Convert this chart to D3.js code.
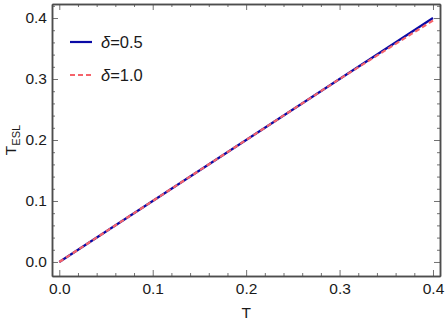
<!DOCTYPE html>
<html>
<head>
<meta charset="utf-8">
<script src="https://cdn.jsdelivr.net/npm/d3@7"></script>
<style>
  body { margin: 0; background: #fff; }
  text { font-family: "Liberation Sans", Arial, sans-serif; }
</style>
</head>
<body>
<div id="chart"></div>
<script>
// data
var tValues = [0.0, 0.1, 0.2, 0.3, 0.4];
var eslDelta05 = [0.0, 0.1, 0.2, 0.3, 0.4];
var eslDelta10 = [0.0, 0.1, 0.2, 0.3, 0.396];
var seriesNames = ["\u03B4=0.5", "\u03B4=1.0"];
var xTicks = [0.0, 0.1, 0.2, 0.3, 0.4];
var yTicks = [0.0, 0.1, 0.2, 0.3, 0.4];

var svgWidth = 445, svgHeight = 324;
var margin = { top: 4, right: 5, bottom: 48, left: 52 };
var chartWidth = svgWidth - margin.left - margin.right;
var chartHeight = svgHeight - margin.top - margin.bottom;

var svg = d3.select("#chart").append("svg")
  .attr("width", svgWidth)
  .attr("height", svgHeight);

var chartGroup = svg.append("g")
  .attr("transform", `translate(${margin.left}, ${margin.top})`);

var xScale = d3.scaleLinear()
  .domain([-0.0078, 0.4075])
  .range([0, chartWidth]);

var yScale = d3.scaleLinear()
  .domain([-0.023, 0.423])
  .range([chartHeight, 0]);

var frameColor = "#4d4d4d";
var minorX = d3.range(0, 0.4001, 0.02).filter(v => xTicks.every(t => Math.abs(t - v) > 1e-6));
var minorY = d3.range(0, 0.4201, 0.02).filter(v => yTicks.every(t => Math.abs(t - v) > 1e-6));

// axes on all four sides, ticks pointing inward
function styleAxis(g) {
  g.select(".domain").attr("stroke", frameColor).attr("stroke-width", 1.5);
  g.selectAll(".tick line").attr("stroke", frameColor).attr("stroke-width", 0.8);
  g.selectAll(".tick text").attr("fill", "#1a1a1a").attr("font-size", 15.5);
}

var xAxisBottom = d3.axisBottom(xScale).tickValues(xTicks).tickSize(-6).tickSizeOuter(0)
  .tickPadding(7).tickFormat(d3.format(".1f"));
chartGroup.append("g").attr("transform", `translate(0, ${chartHeight})`).call(xAxisBottom).call(styleAxis);
chartGroup.append("g").attr("transform", `translate(0, ${chartHeight})`)
  .call(d3.axisBottom(xScale).tickValues(minorX).tickSize(-3).tickSizeOuter(0).tickFormat(""))
  .call(styleAxis);

chartGroup.append("g")
  .call(d3.axisTop(xScale).tickValues(xTicks).tickSize(-6).tickSizeOuter(0).tickFormat(""))
  .call(styleAxis);
chartGroup.append("g")
  .call(d3.axisTop(xScale).tickValues(minorX).tickSize(-3).tickSizeOuter(0).tickFormat(""))
  .call(styleAxis);

var yAxisLeft = d3.axisLeft(yScale).tickValues(yTicks).tickSize(-6).tickSizeOuter(0)
  .tickPadding(5).tickFormat(d3.format(".1f"));
chartGroup.append("g").call(yAxisLeft).call(styleAxis);
chartGroup.append("g")
  .call(d3.axisLeft(yScale).tickValues(minorY).tickSize(-3).tickSizeOuter(0).tickFormat(""))
  .call(styleAxis);

chartGroup.append("g").attr("transform", `translate(${chartWidth}, 0)`)
  .call(d3.axisRight(yScale).tickValues(yTicks).tickSize(-6).tickSizeOuter(0).tickFormat(""))
  .call(styleAxis);
chartGroup.append("g").attr("transform", `translate(${chartWidth}, 0)`)
  .call(d3.axisRight(yScale).tickValues(minorY).tickSize(-3).tickSizeOuter(0).tickFormat(""))
  .call(styleAxis);

// lines
var eslLine = d3.line().x((d, i) => xScale(tValues[i])).y(d => yScale(d));

chartGroup.append("path")
  .datum(eslDelta05)
  .attr("d", eslLine)
  .attr("fill", "none")
  .attr("stroke", "#0a0aa6")
  .attr("stroke-width", 2.2);

chartGroup.append("path")
  .datum(eslDelta10)
  .attr("d", eslLine)
  .attr("fill", "none")
  .attr("stroke", "#f5636b")
  .attr("stroke-width", 2.2)
  .attr("stroke-dasharray", "5,3");

// axis labels
chartGroup.append("text")
  .attr("x", xScale(0.2))
  .attr("y", chartHeight + 42)
  .attr("text-anchor", "middle")
  .attr("font-size", 15.5)
  .attr("fill", "#1a1a1a")
  .text("T");

var yLabel = svg.append("text")
  .attr("transform", `translate(16, ${margin.top + yScale(0.2)}) rotate(-90)`)
  .attr("text-anchor", "middle")
  .attr("font-size", 15.5)
  .attr("fill", "#1a1a1a");
yLabel.append("tspan").text("T");
yLabel.append("tspan").attr("font-size", 11).attr("dy", 4).text("ESL");

// legend
var legend = chartGroup.append("g").attr("transform", "translate(18, 38)");
var legendStyles = [
  { color: "#0a0aa6", dash: null },
  { color: "#f5636b", dash: "5,3" }
];
seriesNames.forEach(function(name, i) {
  var row = legend.append("g").attr("transform", `translate(0, ${i * 33})`);
  row.append("line")
    .attr("x1", 0).attr("x2", 22)
    .attr("stroke", legendStyles[i].color)
    .attr("stroke-width", 2.2)
    .attr("stroke-dasharray", legendStyles[i].dash);
  var t = row.append("text")
    .attr("x", 31)
    .attr("y", 6)
    .attr("font-size", 16.5)
    .attr("fill", "#1a1a1a");
  t.append("tspan").attr("font-style", "italic").text(name.slice(0, 1));
  t.append("tspan").text(name.slice(1));
});
</script>
</body>
</html>
